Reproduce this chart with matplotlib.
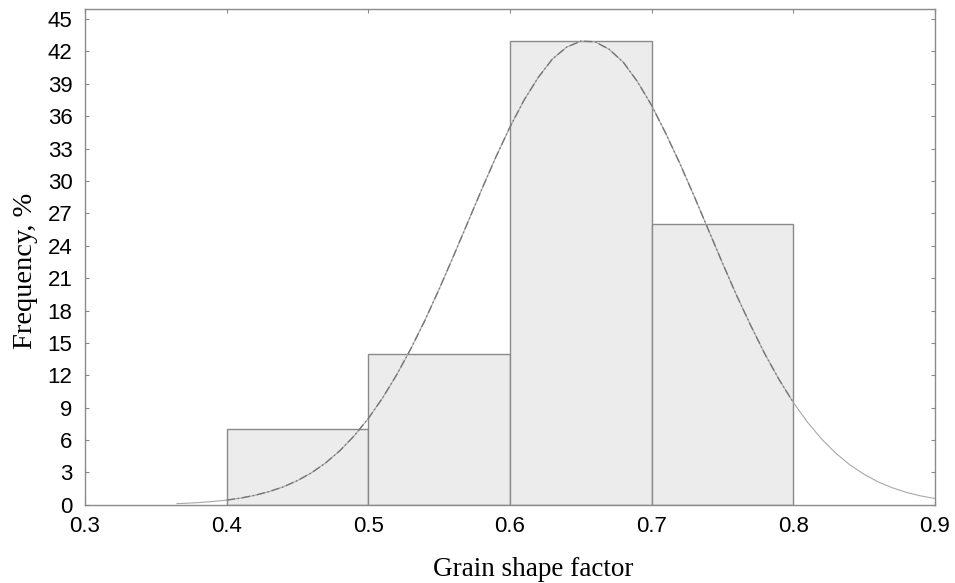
import matplotlib
matplotlib.use("Agg")
import matplotlib.pyplot as plt

# Histogram data
bin_left = [0.4, 0.5, 0.6, 0.7]
bin_width = [0.1, 0.1, 0.1, 0.1]
freq = [7, 14, 43, 26]

# Fitted curve
curve_x = [0.365, 0.37, 0.38, 0.39, 0.40, 0.41, 0.42, 0.43, 0.44, 0.45, 0.46, 0.47,
           0.48, 0.49, 0.50, 0.51, 0.52, 0.53, 0.54, 0.55, 0.56, 0.57, 0.58, 0.59,
           0.60, 0.61, 0.62, 0.63, 0.64, 0.65, 0.66, 0.67, 0.68, 0.69, 0.70, 0.71,
           0.72, 0.73, 0.74, 0.75, 0.76, 0.77, 0.78, 0.79, 0.80, 0.81, 0.82, 0.83,
           0.84, 0.85, 0.86, 0.87, 0.88, 0.89, 0.90]
curve_y = [0.12, 0.14, 0.21, 0.31, 0.44, 0.63, 0.89, 1.23, 1.67, 2.25, 2.98, 3.90,
           5.03, 6.39, 8.0, 9.89, 12.04, 14.46, 17.1, 19.98, 23.0, 26.1, 29.2, 32.2,
           35.0, 37.5, 39.6, 41.3, 42.4, 42.95, 42.9, 42.2, 41.0, 39.2, 37.0, 34.4,
           31.6, 28.6, 25.5, 22.4, 19.4, 16.6, 13.96, 11.6, 9.49, 7.66, 6.10, 4.79,
           3.70, 2.83, 2.12, 1.58, 1.15, 0.83, 0.59]

x_ticks = [0.3, 0.4, 0.5, 0.6, 0.7, 0.8, 0.9]
x_tick_labels = ["0.3", "0.4", "0.5", "0.6", "0.7", "0.8", "0.9"]
y_ticks = [0, 3, 6, 9, 12, 15, 18, 21, 24, 27, 30, 33, 36, 39, 42, 45]

fig = plt.figure(figsize=(9.55, 5.83), dpi=100)
ax = fig.add_axes([0.089, 0.134, 0.89, 0.85])

ax.bar(bin_left, freq, width=bin_width, align="edge", color="#ececec",
       edgecolor="#8a8a8a", linewidth=1.0, zorder=2)

ax.plot(curve_x, curve_y, color="#a8a8a8", linewidth=0.8, zorder=3)
inner = [(x, y) for x, y in zip(curve_x, curve_y) if 0.4 <= x <= 0.8]
ax.plot([p[0] for p in inner], [p[1] for p in inner], color="#777777",
        linewidth=1.0, linestyle=(0, (6, 2, 1, 2)), zorder=4)

ax.set_xlim(0.3, 0.9)
ax.set_ylim(0, 45.9)
ax.set_xticks(x_ticks)
ax.set_xticklabels(x_tick_labels)
ax.set_yticks(y_ticks)

for lab in ax.get_xticklabels() + ax.get_yticklabels():
    lab.set_fontfamily("Liberation Sans")
    lab.set_fontsize(16)

ax.tick_params(direction="in", length=3, width=0.8, color="#888888",
               top=True, right=True)
ax.tick_params(axis="y", pad=9)
ax.tick_params(axis="x", pad=8)

for s in ax.spines.values():
    s.set_color("#8a8a8a")
    s.set_linewidth(1.0)

ax.set_xlabel("Grain shape factor", fontfamily="Liberation Serif", fontsize=19.5)
ax.set_ylabel("Frequency, %", fontfamily="Liberation Serif", fontsize=20.5)
ax.xaxis.set_label_coords(0.527, -0.105)
ax.yaxis.set_label_coords(-0.055, 0.472)

fig.savefig("out.png", dpi=100)
